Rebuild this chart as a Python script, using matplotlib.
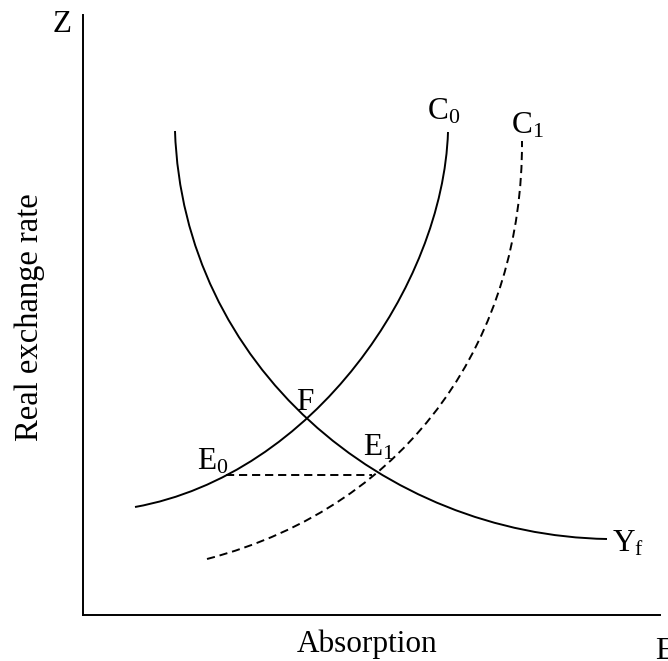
import matplotlib
matplotlib.use('Agg')
import matplotlib.pyplot as plt
from matplotlib.path import Path
from matplotlib.patches import PathPatch

plt.rcParams['font.family'] = ['Liberation Serif', 'DejaVu Serif']
plt.rcParams['mathtext.fontset'] = 'custom'
plt.rcParams['mathtext.rm'] = 'Liberation Serif'
plt.rcParams['mathtext.it'] = 'Liberation Serif'

# curves as cubic Bezier points (start, control, control, end),
# in (absorption, real exchange rate) units
yf_x = [92, 100, 300, 524]
yf_y = [484, 250, 80, 76]

c0_x = [52, 230, 360, 365]
c0_y = [108, 140, 330, 483]

c1_x = [124, 330, 440, 439]
c1_y = [56, 110, 280, 474]

# E0 -> E1 horizontal
e_x = [143, 289]
e_y = [140, 140]

fig = plt.figure(figsize=(6.68, 6.61), dpi=100)
ax = fig.add_axes([83 / 668, 46 / 661, 577 / 668, 600 / 661])
ax.set_xlim(0, 577)
ax.set_ylim(0, 600)
for s in ['top', 'right']:
    ax.spines[s].set_visible(False)
for s in ['left', 'bottom']:
    ax.spines[s].set_linewidth(1.4)
ax.set_xticks([])
ax.set_yticks([])

lw = 1.4
dash = (0, (4.2, 2.5))


def bezier(xs, ys, ls='-'):
    codes = [Path.MOVETO, Path.CURVE4, Path.CURVE4, Path.CURVE4]
    p = Path(list(zip(xs, ys)), codes)
    ax.add_patch(PathPatch(p, facecolor='none', edgecolor='black', lw=lw, ls=ls))


bezier(yf_x, yf_y)
bezier(c0_x, c0_y)
bezier(c1_x, c1_y, dash)
ax.plot(e_x, e_y, color='black', lw=lw, ls=dash)

fs = 22.5
kw = dict(fontsize=fs, ha='left', va='baseline', clip_on=False)
ax.text(344, 495, r'$\mathrm{C_0}$', **kw)
ax.text(428, 482, r'$\mathrm{C_1}$', **kw)
ax.text(213, 205, 'F', **kw)
ax.text(114, 146, r'$\mathrm{E_0}$', **kw)
ax.text(280, 160, r'$\mathrm{E_1}$', **kw)
ax.text(529, 63, r'$\mathrm{Y_f}$', **kw)
ax.text(-30, 583, 'Z', **kw)
ax.text(572, -44, 'E', **kw)
ax.text(284, -37, 'Absorption', fontsize=fs, ha='center', va='baseline', clip_on=False)
ax.text(-53, 298, 'Real exchange rate', fontsize=23.5, rotation=90,
        ha='center', va='center', clip_on=False)

fig.savefig('out.png', dpi=100)
plt.close()
